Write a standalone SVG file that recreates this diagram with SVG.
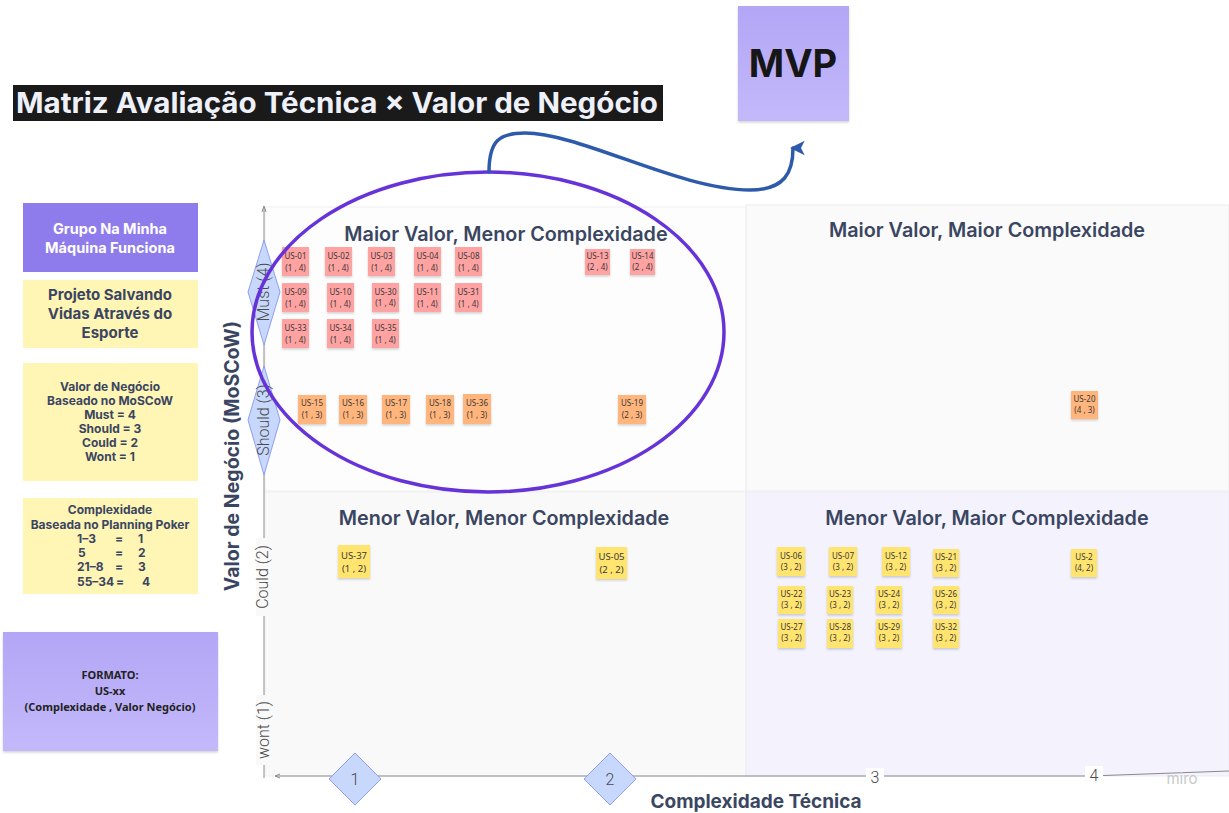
<svg xmlns="http://www.w3.org/2000/svg" width="1229" height="813" viewBox="0 0 1229 813">
<style>
.hdr{font-family:Inter,"Liberation Sans",sans-serif;font-weight:600;font-size:19.8px;fill:#3a4661;text-anchor:middle}
.pan{font-family:Inter,"Liberation Sans",sans-serif;font-weight:700;text-anchor:middle;fill:#3a4661}
.stk{font-family:"Noto Sans","Liberation Sans",sans-serif;font-size:8px;fill:#3a3a3a;text-anchor:middle}
.stkL{font-family:"Noto Sans","Liberation Sans",sans-serif;font-size:9.5px;fill:#3a3a3a;text-anchor:middle}
.red{fill:#ffa2a2}
.org{fill:#ffb57c}
.yel{fill:#ffe46f}
.ax{font-family:Roboto,"Liberation Sans",sans-serif;font-weight:300;font-size:16px;fill:#4a4a4a;text-anchor:middle}
.dia{fill:#c8d8fc;stroke:#8e9ff0;stroke-width:1}
.axl{stroke:#8a8a8a;stroke-width:1;fill:none}
</style>
<defs>
<filter id="sh" x="-20%" y="-20%" width="140%" height="150%"><feDropShadow dx="0" dy="1.5" stdDeviation="1" flood-color="#000" flood-opacity="0.18"/></filter>
<linearGradient id="pg" x1="0" y1="0" x2="0" y2="1"><stop offset="0" stop-color="#b3a6f6"/><stop offset="1" stop-color="#c3b9fa"/></linearGradient>
<marker id="ah" viewBox="0 0 12 12" refX="6" refY="2" markerWidth="5" markerHeight="5" orient="auto-start-reverse" markerUnits="strokeWidth">
<path d="M6,0 L11,10 L6,7.5 L1,10 Z" fill="#2e5aac"/>
</marker>
</defs>
<rect width="1229" height="813" fill="#ffffff"/>

<g id="quadrants">
<rect x="265" y="207" width="481" height="284" fill="#fdfdfd" stroke="#efefef"/>
<rect x="746" y="205" width="483" height="286" fill="#fafafa" stroke="#ececec"/>
<rect x="265" y="492" width="481" height="284" fill="#f9f9f9" stroke="#efefef"/>
<rect x="746" y="492" width="483" height="284" fill="#f3f2fd" stroke="#ecebf8"/>
<text class="hdr" x="506" y="241">Maior Valor, Menor Complexidade</text>
<text class="hdr" x="987" y="237">Maior Valor, Maior Complexidade</text>
<text class="hdr" x="504" y="525">Menor Valor, Menor Complexidade</text>
<text class="hdr" x="987" y="525">Menor Valor, Maior Complexidade</text>
</g>

<g id="title">
<rect x="13" y="85" width="650" height="36" fill="#1a1a1a"/>
<text x="16" y="113" font-family="Inter,'Liberation Sans',sans-serif" font-weight="700" font-size="28" fill="#eef1fa" textLength="642" lengthAdjust="spacingAndGlyphs">Matriz Avaliação Técnica × Valor de Negócio</text>
</g>

<g id="mvp">
<rect x="738" y="6" width="111" height="115" fill="url(#pg)" filter="url(#sh)"/>
<text x="793" y="77" font-family="Inter,'Liberation Sans',sans-serif" font-weight="700" font-size="38" fill="#161616" text-anchor="middle">MVP</text>
</g>

<g id="axes">
<line class="axl" x1="264" y1="208" x2="264" y2="778"/>
<path d="M262,212 L264,206 L266,212" class="axl"/>
<line class="axl" x1="275" y1="776" x2="1090" y2="776"/>
<line class="axl" x1="1090" y1="776" x2="1229" y2="771"/>
<path d="M280,774 L275,776 L280,778" class="axl"/>
<g id="y-must"><path class="dia" d="M264,240 L280,292 L264,345 L248,292 Z"/><text class="ax" transform="translate(269,292) rotate(-90)">Must (4)</text></g>
<g id="y-should"><path class="dia" d="M264,366 L280,420 L264,475 L248,420 Z"/><text class="ax" transform="translate(269,420) rotate(-90)">Should (3)</text></g>
<g id="y-could"><rect x="256" y="538" width="16" height="78" fill="#f9f9f9"/><text class="ax" transform="translate(268,577) rotate(-90)">Could (2)</text></g>
<g id="y-wont"><rect x="256" y="695" width="16" height="70" fill="#f9f9f9"/><text class="ax" transform="translate(269,730) rotate(-90)">wont (1)</text></g>
<g id="x-1"><path class="dia" d="M355,753 L381,779 L355,805 L329,779 Z"/><text class="ax" x="355" y="785">1</text></g>
<g id="x-2"><path class="dia" d="M610,753 L636,779 L610,805 L584,779 Z"/><text class="ax" x="610" y="785">2</text></g>
<g id="x-3"><rect x="866" y="768" width="18" height="18" fill="#ffffff"/><text class="ax" x="875" y="783">3</text></g>
<g id="x-4"><rect x="1085" y="766" width="18" height="18" fill="#ffffff"/><text class="ax" x="1094" y="781">4</text></g>
<text x="1182" y="784" font-family="Inter,'Liberation Sans',sans-serif" font-size="15" fill="#c8c8c8" text-anchor="middle">miro</text>
<text x="756" y="808" font-family="Inter,'Liberation Sans',sans-serif" font-weight="700" font-size="19" fill="#3a4661" text-anchor="middle">Complexidade Técnica</text>
<text transform="translate(239,456) rotate(-90)" font-family="Inter,'Liberation Sans',sans-serif" font-weight="700" font-size="19.5" fill="#3a4661" text-anchor="middle">Valor de Negócio (MoSCoW)</text>
</g>

<g id="left-panel">
<g id="grupo"><rect x="23" y="203" width="175" height="69" fill="#8f7cec"/>
<text class="pan" x="110" y="234" font-size="14.5" style="fill:#ffffff">Grupo Na Minha</text>
<text class="pan" x="110" y="253" font-size="14.5" style="fill:#ffffff">Máquina Funciona</text></g>
<g id="projeto"><rect x="23" y="280" width="175" height="68" fill="#fff5b5"/>
<text class="pan" x="110" y="300" font-size="15">Projeto Salvando</text>
<text class="pan" x="110" y="319" font-size="15">Vidas Através do</text>
<text class="pan" x="110" y="338" font-size="15">Esporte</text></g>
<g id="valor"><rect x="23" y="363" width="175" height="118" fill="#fff5b5"/>
<text class="pan" x="110" y="391" font-size="12">Valor de Negócio</text>
<text class="pan" x="110" y="405" font-size="12">Baseado no MoSCoW</text>
<text class="pan" x="110" y="419" font-size="12">Must = 4</text>
<text class="pan" x="110" y="433" font-size="12">Should = 3</text>
<text class="pan" x="110" y="447" font-size="12">Could = 2</text>
<text class="pan" x="110" y="461" font-size="12">Wont = 1</text></g>
<g id="complexidade"><rect x="23" y="498" width="175" height="96" fill="#fff5b5"/>
<text class="pan" x="110" y="514" font-size="12">Complexidade</text>
<text class="pan" x="110" y="529" font-size="12">Baseada no Planning Poker</text>
<g class="pan" font-size="12" style="text-anchor:start">
<text x="77" y="543">1–3</text><text x="115" y="543">=</text><text x="138" y="543">1</text>
<text x="78" y="557">5</text><text x="115" y="557">=</text><text x="138" y="557">2</text>
<text x="77" y="571">21–8</text><text x="115" y="571">=</text><text x="138" y="571">3</text>
<text x="77" y="586">55–34</text><text x="116" y="586">=</text><text x="142" y="586">4</text>
</g></g>
<g id="formato"><rect x="3" y="632" width="215" height="119" fill="url(#pg)" filter="url(#sh)"/>
<text x="110" y="679" font-family="'Noto Sans','Liberation Sans',sans-serif" font-weight="700" font-size="11" fill="#222" text-anchor="middle">FORMATO:</text>
<text x="110" y="695" font-family="'Noto Sans','Liberation Sans',sans-serif" font-weight="700" font-size="11" fill="#222" text-anchor="middle">US-xx</text>
<text x="110" y="711" font-family="'Noto Sans','Liberation Sans',sans-serif" font-weight="700" font-size="11" fill="#222" text-anchor="middle">(Complexidade , Valor Negócio)</text></g>
</g>

<g id="stickies-must">
<g id="US-01"><rect class="red" x="282" y="247" width="27" height="29" filter="url(#sh)"/><text class="stk" x="295.5" y="259">US-01</text><text class="stk" x="295.5" y="271">(1 , 4)</text></g>
<g id="US-02"><rect class="red" x="325" y="247" width="27" height="29" filter="url(#sh)"/><text class="stk" x="338.5" y="259">US-02</text><text class="stk" x="338.5" y="271">(1 , 4)</text></g>
<g id="US-03"><rect class="red" x="368" y="247" width="27" height="29" filter="url(#sh)"/><text class="stk" x="381.5" y="259">US-03</text><text class="stk" x="381.5" y="271">(1 , 4)</text></g>
<g id="US-04"><rect class="red" x="414" y="247" width="27" height="29" filter="url(#sh)"/><text class="stk" x="427.5" y="259">US-04</text><text class="stk" x="427.5" y="271">(1 , 4)</text></g>
<g id="US-08"><rect class="red" x="455" y="247" width="27" height="29" filter="url(#sh)"/><text class="stk" x="468.5" y="259">US-08</text><text class="stk" x="468.5" y="271">(1 , 4)</text></g>
<g id="US-09"><rect class="red" x="282" y="283" width="27" height="29" filter="url(#sh)"/><text class="stk" x="295.5" y="295">US-09</text><text class="stk" x="295.5" y="307">(1 , 4)</text></g>
<g id="US-10"><rect class="red" x="327" y="283" width="27" height="29" filter="url(#sh)"/><text class="stk" x="340.5" y="295">US-10</text><text class="stk" x="340.5" y="307">(1 , 4)</text></g>
<g id="US-30"><rect class="red" x="372" y="283" width="27" height="29" filter="url(#sh)"/><text class="stk" x="385.5" y="295">US-30</text><text class="stk" x="385.5" y="306">(1 , 4)</text></g>
<g id="US-11"><rect class="red" x="414" y="283" width="27" height="29" filter="url(#sh)"/><text class="stk" x="427.5" y="295">US-11</text><text class="stk" x="427.5" y="307">(1 , 4)</text></g>
<g id="US-31"><rect class="red" x="455" y="283" width="27" height="29" filter="url(#sh)"/><text class="stk" x="468.5" y="295">US-31</text><text class="stk" x="468.5" y="307">(1 , 4)</text></g>
<g id="US-33"><rect class="red" x="282" y="319" width="27" height="29" filter="url(#sh)"/><text class="stk" x="295.5" y="331">US-33</text><text class="stk" x="295.5" y="343">(1 , 4)</text></g>
<g id="US-34"><rect class="red" x="327" y="319" width="27" height="29" filter="url(#sh)"/><text class="stk" x="340.5" y="331">US-34</text><text class="stk" x="340.5" y="343">(1 , 4)</text></g>
<g id="US-35"><rect class="red" x="372" y="319" width="27" height="29" filter="url(#sh)"/><text class="stk" x="385.5" y="331">US-35</text><text class="stk" x="385.5" y="343">(1 , 4)</text></g>
<g id="US-13"><rect class="red" x="585" y="249" width="25" height="26" filter="url(#sh)"/><text class="stk" x="597.5" y="259" font-size="7.5">US-13</text><text class="stk" x="597.5" y="270" font-size="7.5">(2 , 4)</text></g>
<g id="US-14"><rect class="red" x="630" y="249" width="25" height="26" filter="url(#sh)"/><text class="stk" x="642.5" y="259" font-size="7.5">US-14</text><text class="stk" x="642.5" y="270" font-size="7.5">(2 , 4)</text></g>
</g>

<g id="stickies-should">
<g id="US-15"><rect class="org" x="298" y="395" width="28" height="29" filter="url(#sh)"/><text class="stk" x="312" y="406">US-15</text><text class="stk" x="312" y="418">(1 , 3)</text></g>
<g id="US-16"><rect class="org" x="339" y="395" width="28" height="29" filter="url(#sh)"/><text class="stk" x="353" y="406">US-16</text><text class="stk" x="353" y="418">(1 , 3)</text></g>
<g id="US-17"><rect class="org" x="382" y="395" width="28" height="29" filter="url(#sh)"/><text class="stk" x="396" y="406">US-17</text><text class="stk" x="396" y="418">(1 , 3)</text></g>
<g id="US-18"><rect class="org" x="426" y="395" width="28" height="29" filter="url(#sh)"/><text class="stk" x="440" y="406">US-18</text><text class="stk" x="440" y="418">(1 , 3)</text></g>
<g id="US-36"><rect class="org" x="463" y="394" width="28" height="30" filter="url(#sh)"/><text class="stk" x="477" y="406">US-36</text><text class="stk" x="477" y="418">(1 , 3)</text></g>
<g id="US-19"><rect class="org" x="618" y="395" width="28" height="29" filter="url(#sh)"/><text class="stk" x="632" y="406">US-19</text><text class="stk" x="632" y="418">(2 , 3)</text></g>
<g id="US-20"><rect class="org" x="1071" y="391" width="27" height="28" filter="url(#sh)"/><text class="stk" x="1084.5" y="402" font-size="7.5">US-20</text><text class="stk" x="1084.5" y="413" font-size="7.5">(4 , 3)</text></g>
</g>

<g id="stickies-could">
<g id="US-37"><rect class="yel" x="338" y="545" width="32" height="33" filter="url(#sh)"/><text class="stkL" x="354" y="559">US-37</text><text class="stkL" x="354" y="572">(1 , 2)</text></g>
<g id="US-05"><rect class="yel" x="596" y="547" width="31" height="32" filter="url(#sh)"/><text class="stkL" x="611.5" y="560">US-05</text><text class="stkL" x="611.5" y="573">(2 , 2)</text></g>
<g id="US-06"><rect class="yel" x="777" y="547" width="28" height="29" filter="url(#sh)"/><text class="stk" x="791" y="559">US-06</text><text class="stk" x="791" y="570">(3 , 2)</text></g>
<g id="US-07"><rect class="yel" x="829" y="547" width="28" height="29" filter="url(#sh)"/><text class="stk" x="843" y="559">US-07</text><text class="stk" x="843" y="570">(3 , 2)</text></g>
<g id="US-12"><rect class="yel" x="882" y="547" width="28" height="29" filter="url(#sh)"/><text class="stk" x="896" y="559">US-12</text><text class="stk" x="896" y="570">(3 , 2)</text></g>
<g id="US-21"><rect class="yel" x="933" y="549" width="26" height="28" filter="url(#sh)"/><text class="stk" x="946" y="560">US-21</text><text class="stk" x="946" y="571">(3 , 2)</text></g>
<g id="US-2"><rect class="yel" x="1071" y="549" width="26" height="28" filter="url(#sh)"/><text class="stk" x="1084" y="560">US-2</text><text class="stk" x="1084" y="571">(4, 2)</text></g>
<g id="US-22"><rect class="yel" x="778" y="586" width="27" height="28" filter="url(#sh)"/><text class="stk" x="791.5" y="597">US-22</text><text class="stk" x="791.5" y="608">(3 , 2)</text></g>
<g id="US-23"><rect class="yel" x="827" y="586" width="26" height="28" filter="url(#sh)"/><text class="stk" x="840" y="597">US-23</text><text class="stk" x="840" y="608">(3 , 2)</text></g>
<g id="US-24"><rect class="yel" x="876" y="586" width="26" height="28" filter="url(#sh)"/><text class="stk" x="889" y="597">US-24</text><text class="stk" x="889" y="608">(3 , 2)</text></g>
<g id="US-26"><rect class="yel" x="933" y="586" width="26" height="28" filter="url(#sh)"/><text class="stk" x="946" y="597">US-26</text><text class="stk" x="946" y="608">(3 , 2)</text></g>
<g id="US-27"><rect class="yel" x="778" y="619" width="27" height="29" filter="url(#sh)"/><text class="stk" x="791.5" y="630">US-27</text><text class="stk" x="791.5" y="641">(3 , 2)</text></g>
<g id="US-28"><rect class="yel" x="827" y="619" width="26" height="29" filter="url(#sh)"/><text class="stk" x="840" y="630">US-28</text><text class="stk" x="840" y="641">(3 , 2)</text></g>
<g id="US-29"><rect class="yel" x="876" y="619" width="26" height="29" filter="url(#sh)"/><text class="stk" x="889" y="630">US-29</text><text class="stk" x="889" y="641">(3 , 2)</text></g>
<g id="US-32"><rect class="yel" x="933" y="619" width="26" height="29" filter="url(#sh)"/><text class="stk" x="946" y="630">US-32</text><text class="stk" x="946" y="641">(3 , 2)</text></g>
</g>

<g id="mvp-ellipse">
<ellipse cx="488" cy="332" rx="236" ry="160" fill="none" stroke="#6633d9" stroke-width="3.5"/>
</g>

<g id="connectors">
<path d="M489,172 C489,140 500,133 525,133 C580,133 680,190 750,190 C785,190 793,172 793,148" fill="none" stroke="#2e5aac" stroke-width="3.5" stroke-linecap="round" marker-end="url(#ah)"/>
</g>
</svg>
